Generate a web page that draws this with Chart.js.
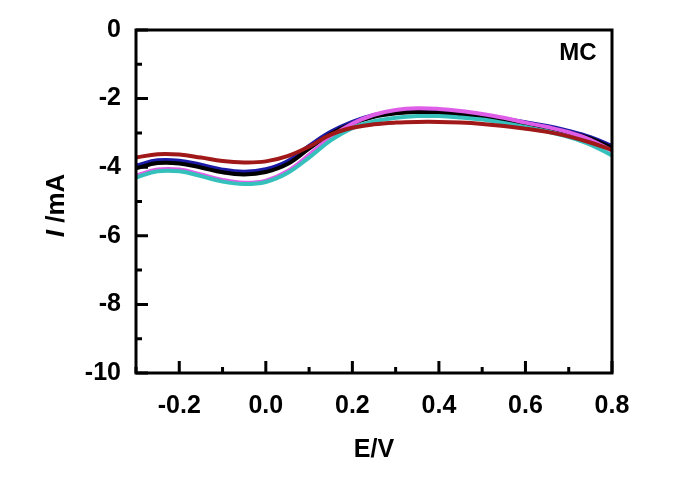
<!DOCTYPE html>
<html lang="en">
<head>
<meta charset="utf-8">
<title>MC</title>
<script src="https://cdn.jsdelivr.net/npm/chart.js@4.4.1/dist/chart.umd.min.js"></script>
<style>
  html, body { margin: 0; padding: 0; background: #ffffff; }
  #wrap { width: 696px; height: 477px; }
</style>
</head>
<body>
<div id="wrap"><canvas id="cv" width="696" height="477"></canvas></div>
<script>
// potential E / V
const potential = [-0.30, -0.25, -0.20, -0.15, -0.10, -0.05, 0.00, 0.05, 0.10, 0.15, 0.20, 0.25,
                   0.30, 0.35, 0.40, 0.45, 0.50, 0.55, 0.60, 0.65, 0.70, 0.75, 0.80];

// current I / mA, one array per curve
const curveRed     = [-3.72, -3.62, -3.63, -3.72, -3.82, -3.86, -3.83, -3.68, -3.40, -3.05, -2.85, -2.75,
                      -2.70, -2.68, -2.68, -2.70, -2.74, -2.80, -2.88, -2.97, -3.10, -3.28, -3.50];
const curveCyan    = [-4.30, -4.12, -4.12, -4.26, -4.42, -4.49, -4.43, -4.17, -3.72, -3.22, -2.86, -2.66,
                      -2.56, -2.51, -2.51, -2.55, -2.61, -2.71, -2.83, -2.96, -3.12, -3.34, -3.66];
const curveMagenta = [-4.25, -4.07, -4.07, -4.21, -4.37, -4.45, -4.39, -4.12, -3.64, -3.12, -2.73, -2.47,
                      -2.33, -2.28, -2.30, -2.36, -2.45, -2.56, -2.70, -2.83, -2.98, -3.20, -3.52];
const curveBlack   = [-4.03, -3.88, -3.89, -4.01, -4.15, -4.21, -4.14, -3.91, -3.46, -3.03, -2.73, -2.53,
                      -2.43, -2.39, -2.41, -2.46, -2.54, -2.63, -2.73, -2.85, -2.99, -3.16, -3.44];
const curveBlue    = [-3.95, -3.80, -3.81, -3.93, -4.07, -4.13, -4.06, -3.83, -3.38, -2.97, -2.68, -2.48,
                      -2.38, -2.35, -2.37, -2.42, -2.50, -2.59, -2.69, -2.80, -2.94, -3.12, -3.38];

// axis ticks
const xTicksMajor = [-0.2, 0.0, 0.2, 0.4, 0.6, 0.8];
const xTicksMinor = [-0.3, -0.1, 0.1, 0.3, 0.5, 0.7];
const yTicksMajor = [0, -2, -4, -6, -8, -10];
const yTicksMinor = [-1, -3, -5, -7, -9];

const FONT = "'Liberation Sans', Arial, sans-serif";

function pts(arr) {
  return arr.map((v, i) => ({ x: potential[i], y: v }));
}
function ds(arr, color) {
  return {
    data: pts(arr),
    borderColor: color,
    borderWidth: 4,
    pointRadius: 0,
    fill: false,
    tension: 0.4
  };
}

// frame, inner ticks, titles and the MC tag
const decor = {
  id: 'decor',
  afterDraw(chart) {
    const ctx = chart.ctx;
    const a = chart.chartArea;
    const xs = chart.scales.x, ys = chart.scales.y;
    ctx.save();
    ctx.strokeStyle = '#000';
    ctx.lineWidth = 3;
    ctx.strokeRect(a.left, a.top, a.right - a.left, a.bottom - a.top);

    ctx.beginPath();
    xTicksMajor.forEach(v => { const p = xs.getPixelForValue(v); ctx.moveTo(p, a.bottom); ctx.lineTo(p, a.bottom - 12); });
    xTicksMinor.forEach(v => { const p = xs.getPixelForValue(v); ctx.moveTo(p, a.bottom); ctx.lineTo(p, a.bottom - 6); });
    yTicksMajor.forEach(v => { const p = ys.getPixelForValue(v); ctx.moveTo(a.left, p); ctx.lineTo(a.left + 12, p); });
    yTicksMinor.forEach(v => { const p = ys.getPixelForValue(v); ctx.moveTo(a.left, p); ctx.lineTo(a.left + 6, p); });
    ctx.stroke();

    ctx.fillStyle = '#000';
    ctx.textBaseline = 'middle';

    // x title
    ctx.font = 'bold 25px ' + FONT;
    ctx.textAlign = 'center';
    ctx.fillText('E/V', (a.left + a.right) / 2, 450);

    // MC tag
    ctx.font = 'bold 24px ' + FONT;
    ctx.fillText('MC', 578, 53);

    // y title, italic I
    ctx.translate(57, (a.top + a.bottom) / 2 + 4);
    ctx.rotate(-Math.PI / 2);
    const rest = ' /mA';
    ctx.font = 'italic bold 26px ' + FONT;
    const w1 = ctx.measureText('I').width;
    ctx.font = 'bold 26px ' + FONT;
    const w2 = ctx.measureText(rest).width;
    const x0 = -(w1 + w2) / 2;
    ctx.textAlign = 'left';
    ctx.font = 'italic bold 26px ' + FONT;
    ctx.fillText('I', x0, 0);
    ctx.font = 'bold 26px ' + FONT;
    ctx.fillText(rest, x0 + w1, 0);
    ctx.restore();
  }
};

new Chart(document.getElementById('cv'), {
  type: 'line',
  data: {
    datasets: [
      ds(curveRed, '#a01818'),
      ds(curveCyan, '#35c0bc'),
      ds(curveMagenta, '#de5ee8'),
      ds(curveBlack, '#000000'),
      ds(curveBlue, '#1a1aa6')
    ]
  },
  options: {
    responsive: false,
    animation: false,
    layout: { padding: { left: 0, top: 26, right: 84, bottom: 0 } },
    plugins: { legend: { display: false }, tooltip: { enabled: false } },
    scales: {
      x: {
        type: 'linear',
        min: -0.3,
        max: 0.8,
        afterBuildTicks: s => { s.ticks = xTicksMajor.map(v => ({ value: v })); },
        afterFit: s => { s.height = 104; },
        grid: { display: false, drawTicks: false },
        border: { display: false },
        ticks: {
          padding: 18,
          color: '#000',
          font: { family: FONT, size: 25, weight: 'bold' },
          maxRotation: 0,
          callback: v => v.toFixed(1)
        }
      },
      y: {
        min: -10,
        max: 0,
        afterBuildTicks: s => { s.ticks = yTicksMajor.map(v => ({ value: v })); },
        afterFit: s => { s.width = 136; },
        grid: { display: false, drawTicks: false },
        border: { display: false },
        ticks: {
          padding: 15,
          color: '#000',
          font: { family: FONT, size: 25, weight: 'bold' },
          callback: v => String(v)
        }
      }
    }
  },
  plugins: [decor]
});
</script>
</body>
</html>
